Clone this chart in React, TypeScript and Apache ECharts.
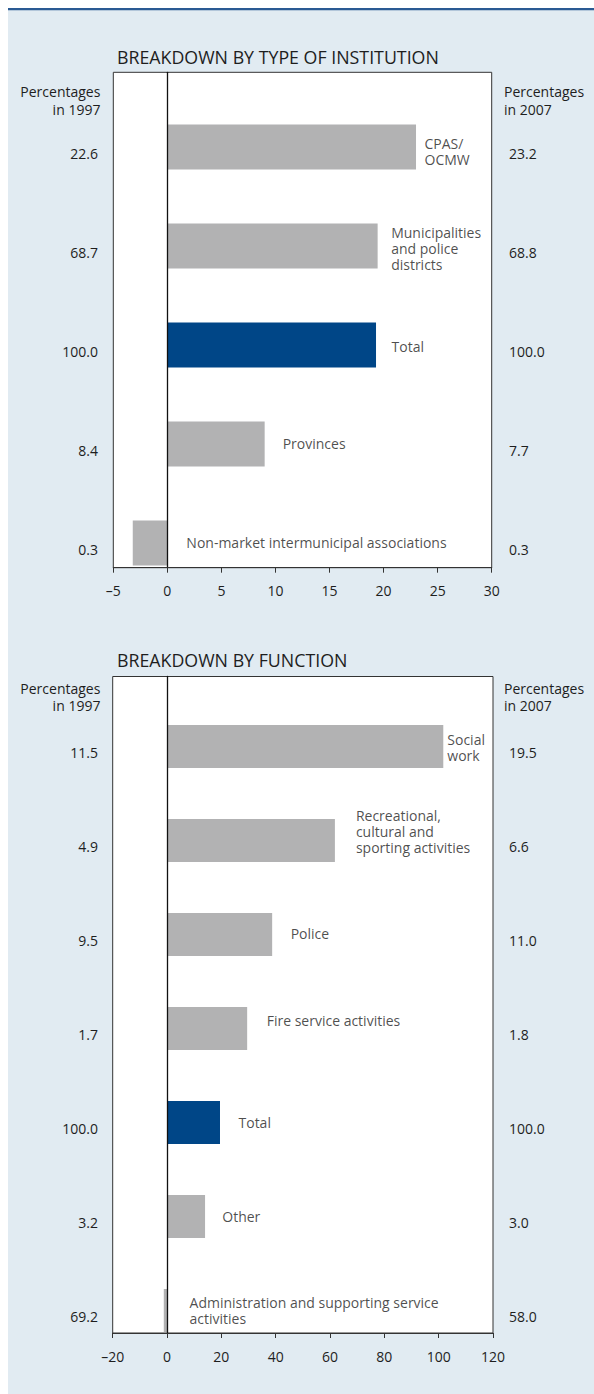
import React, { useEffect, useRef } from "react";
import * as echarts from "echarts";

// ---------------- DATA ----------------
const instTitle = "BREAKDOWN BY TYPE OF INSTITUTION";
const instCategories = [
  "CPAS/\nOCMW",
  "Municipalities\nand police\ndistricts",
  "Total",
  "Provinces",
  "Non-market intermunicipal associations",
];
const instValues = [23.0, 19.45, 19.3, 9.0, -3.2];
const inst1997 = ["22.6", "68.7", "100.0", "8.4", "0.3"];
const inst2007 = ["23.2", "68.8", "100.0", "7.7", "0.3"];
const instAxisMin = -5;
const instAxisMax = 30;
const instAxisStep = 5;

const funcTitle = "BREAKDOWN BY FUNCTION";
const funcCategories = [
  "Social\nwork",
  "Recreational,\ncultural and\nsporting activities",
  "Police",
  "Fire service activities",
  "Total",
  "Other",
  "Administration and supporting service\nactivities",
];
const funcValues = [101.7, 61.8, 38.7, 29.5, 19.5, 14.0, -1.2];
const func1997 = ["11.5", "4.9", "9.5", "1.7", "100.0", "3.2", "69.2"];
const func2007 = ["19.5", "6.6", "11.0", "1.8", "100.0", "3.0", "58.0"];
const funcAxisMin = -20;
const funcAxisMax = 120;
const funcAxisStep = 20;

const header1997 = "Percentages\nin 1997";
const header2007 = "Percentages\nin 2007";
const highlightCategory = "Total";

// ---------------- STYLE ----------------
const FONT = "'Open Sans', 'Noto Sans', 'DejaVu Sans', sans-serif";
const TEXT = "#1e1e1e";
const GRAY = "#b2b2b3";
const BLUE = "#004687";
const BG = "#e1ebf2";
const OFF = 8; // page offset of chart container
const W = 586;
const H = 1386;

const panelStyles = [
  {
    titleY: 56.7,
    frame: { left: 113.3, right: 491.7, top: 72.3, bottom: 567.7 },
    bandTop: 97.5,
    bandHeight: 99,
    barWidth: 45,
    headerTop: 83,
    labelGaps: [8, 13, 15, 17.5, 18.5],
    labelDys: [4, 2, 1, -1, -1],
  },
  {
    titleY: 660,
    frame: { left: 112.7, right: 493, top: 676.5, bottom: 1333 },
    bandTop: 699.5,
    bandHeight: 94,
    barWidth: 43,
    headerTop: 679.5,
    labelGaps: [3.5, 20.5, 18, 19, 18, 16.7, 22],
    labelDys: [1, -9, -1.5, -8.5, 0, 0, 0],
  },
];

const panelsData = [
  {
    title: instTitle,
    cats: instCategories,
    values: instValues,
    left: inst1997,
    right: inst2007,
    min: instAxisMin,
    max: instAxisMax,
    step: instAxisStep,
  },
  {
    title: funcTitle,
    cats: funcCategories,
    values: funcValues,
    left: func1997,
    right: func2007,
    min: funcAxisMin,
    max: funcAxisMax,
    step: funcAxisStep,
  },
];

function buildOption() {
  const grid: any[] = [];
  const xAxis: any[] = [];
  const yAxis: any[] = [];
  const series: any[] = [];
  const graphic: any[] = [
    {
      type: "rect",
      shape: { x: 0, y: 0, width: W, height: 2.2 },
      style: { fill: "#2a5a93" },
      silent: true,
    },
  ];

  panelsData.forEach((p, k) => {
    const s = panelStyles[k];
    const left = s.frame.left - OFF;
    const width = s.frame.right - s.frame.left;
    const n = p.cats.length;

    // frame grid
    const gFrame = grid.length;
    grid.push({
      left,
      top: s.frame.top - OFF,
      width,
      height: s.frame.bottom - s.frame.top,
      show: true,
      backgroundColor: "#ffffff",
      borderColor: "#333333",
      borderWidth: 1,
      containLabel: false,
    });
    // bars grid
    const gBars = grid.length;
    grid.push({
      left,
      top: s.bandTop - OFF,
      width,
      height: s.bandHeight * n,
      show: false,
      containLabel: false,
    });

    xAxis.push({
      type: "value",
      gridIndex: gFrame,
      min: p.min,
      max: p.max,
      interval: p.step,
      z: 5,
      axisLine: { show: true, onZero: false, lineStyle: { color: "#333333", width: 1 } },
      axisTick: { show: true, length: 5, lineStyle: { color: "#333333", width: 1 } },
      splitLine: { show: false },
      axisLabel: {
        show: true,
        margin: 16,
        fontSize: 14,
        color: TEXT,
        fontFamily: FONT,
        formatter: (v: number) => String(v).replace("-", "\u2013"),
      },
    });
    const xBars = xAxis.length;
    xAxis.push({
      type: "value",
      gridIndex: gBars,
      min: p.min,
      max: p.max,
      interval: p.step,
      show: false,
    });

    yAxis.push({
      type: "value",
      gridIndex: gFrame,
      min: 0,
      max: 1,
      z: 5,
      axisLine: { show: true, onZero: true, lineStyle: { color: "#111111", width: 1.3 } },
      axisTick: { show: false },
      axisLabel: { show: false },
      splitLine: { show: false },
    });
    const yBars = yAxis.length;
    yAxis.push({
      type: "category",
      gridIndex: gBars,
      data: p.cats,
      inverse: true,
      position: "left",
      axisLine: { show: false },
      axisTick: { show: false },
      splitLine: { show: false },
      axisLabel: {
        interval: 0,
        margin: s.frame.left - 98,
        fontSize: 14,
        color: TEXT,
        fontFamily: FONT,
        verticalAlign: "top",
        lineHeight: 12,
        formatter: (_v: string, i: number) => p.left[i],
      },
    });
    yAxis.push({
      type: "category",
      gridIndex: gBars,
      data: p.cats,
      inverse: true,
      position: "right",
      axisLine: { show: false },
      axisTick: { show: false },
      splitLine: { show: false },
      axisLabel: {
        interval: 0,
        margin: 509 - s.frame.right,
        fontSize: 14,
        color: TEXT,
        fontFamily: FONT,
        verticalAlign: "top",
        lineHeight: 12,
        formatter: (_v: string, i: number) => p.right[i],
      },
    });

    series.push({
      type: "bar",
      xAxisIndex: xBars,
      yAxisIndex: yBars,
      barWidth: s.barWidth,
      silent: true,
      data: p.values.map((v, i) => ({
        value: v,
        itemStyle: { color: p.cats[i] === highlightCategory ? BLUE : GRAY },
      })),
    });
    series.push({
      type: "scatter",
      xAxisIndex: xBars,
      yAxisIndex: yBars,
      symbolSize: 1,
      silent: true,
      itemStyle: { color: "rgba(0,0,0,0)" },
      data: p.values.map((v, i) => ({
        value: [Math.max(v, 0), i],
        label: {
          show: true,
          position: "right",
          distance: s.labelGaps[i],
          offset: [0, s.labelDys[i]],
          formatter: () => p.cats[i],
          fontSize: 14,
          lineHeight: 16,
          color: TEXT,
          fontFamily: FONT,
        },
      })),
    });

    graphic.push({
      type: "text",
      x: 117 - OFF,
      y: s.titleY - OFF,
      silent: true,
      style: {
        text: p.title,
        fontSize: 17.8,
        fontFamily: FONT,
        fill: TEXT,
        verticalAlign: "middle",
        align: "left",
      },
    });
    graphic.push({
      type: "text",
      x: 100.4 - OFF,
      y: s.headerTop - OFF,
      silent: true,
      style: {
        text: header1997,
        fontSize: 14,
        lineHeight: 17.5,
        fontFamily: FONT,
        fill: TEXT,
        align: "right",
        verticalAlign: "top",
      },
    });
    graphic.push({
      type: "text",
      x: 504 - OFF,
      y: s.headerTop - OFF,
      silent: true,
      style: {
        text: header2007,
        fontSize: 14,
        lineHeight: 17.5,
        fontFamily: FONT,
        fill: TEXT,
        align: "left",
        verticalAlign: "top",
      },
    });
  });

  return {
    animation: false,
    backgroundColor: BG,
    textStyle: { fontFamily: FONT },
    grid,
    xAxis,
    yAxis,
    series,
    graphic,
  };
}

export default function App() {
  const ref = useRef<HTMLDivElement | null>(null);
  useEffect(() => {
    if (!ref.current) return;
    const chart = echarts.init(ref.current, undefined, { renderer: "svg" });
    chart.setOption(buildOption() as any);
    return () => chart.dispose();
  }, []);
  return (
    <div
      ref={ref}
      style={{ position: "absolute", left: OFF, top: OFF, width: W, height: H }}
    />
  );
}
